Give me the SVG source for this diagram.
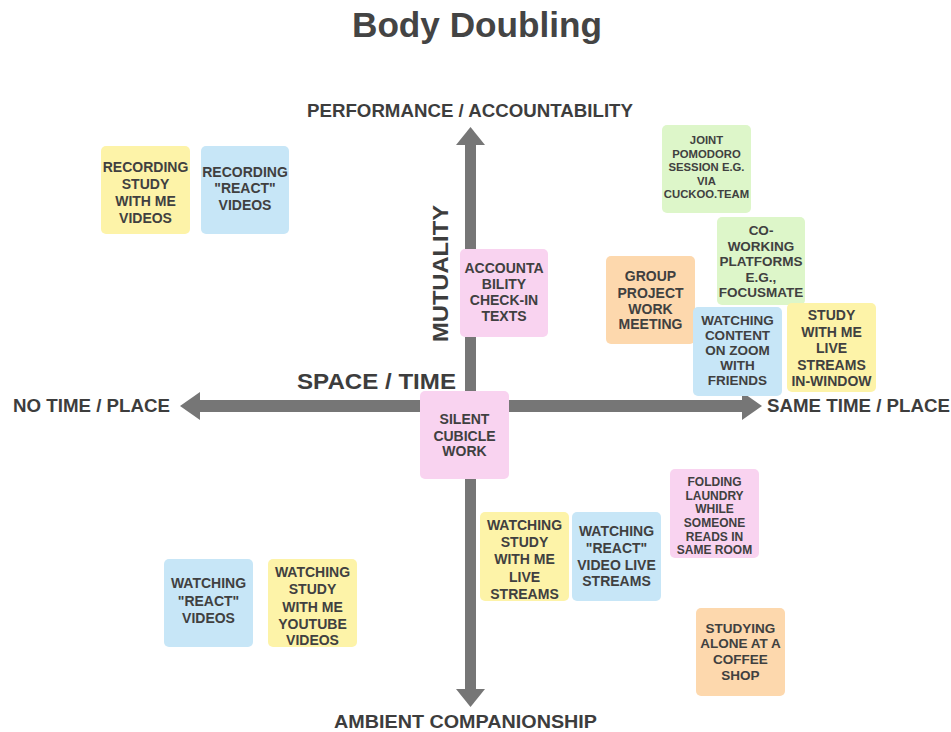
<svg xmlns="http://www.w3.org/2000/svg" width="951" height="732" viewBox="0 0 951 732">
<style>
  .bg{fill:#ffffff}
  .title{font-family:"Liberation Sans",Arial,sans-serif;font-weight:bold;font-size:35px;fill:#444444}
  .axlab{font-family:"Liberation Sans",Arial,sans-serif;font-weight:bold;font-size:18.5px;fill:#3d3d3d}
  .big{font-family:"Liberation Sans",Arial,sans-serif;font-weight:bold;font-size:22px;fill:#3d3d3d}
  .n{font-family:"Liberation Sans",Arial,sans-serif;font-weight:bold;fill:#404040;text-anchor:middle}
  .yel{fill:#fdf3a8}
  .blu{fill:#c7e6f7}
  .grn{fill:#ddf6c9}
  .org{fill:#fdd8ad}
  .pnk{fill:#f9d3f0}
  .ax{fill:#767676}
</style>
<rect class="bg" x="0" y="0" width="951" height="732"/>
<text class="title" x="477" y="37" text-anchor="middle" textLength="250" lengthAdjust="spacingAndGlyphs">Body Doubling</text>

<g id="connectors">
  <rect class="ax" x="200" y="400" width="542" height="12"/>
  <polygon class="ax" points="180,406 200,392 200,420"/>
  <polygon class="ax" points="762,406 742,392 742,420"/>
  <rect class="ax" x="465" y="145" width="11" height="545"/>
  <polygon class="ax" points="470.5,127 456,145 485,145"/>
  <polygon class="ax" points="470.5,707 456,689 485,689"/>
</g>

<g id="axis-labels">
  <text class="axlab" x="307" y="117" textLength="326" lengthAdjust="spacingAndGlyphs">PERFORMANCE / ACCOUNTABILITY</text>
  <text class="axlab" x="13" y="412" textLength="157" lengthAdjust="spacingAndGlyphs">NO TIME / PLACE</text>
  <text class="axlab" x="767" y="412" textLength="183" lengthAdjust="spacingAndGlyphs">SAME TIME / PLACE</text>
  <text class="axlab" x="334" y="728" textLength="263" lengthAdjust="spacingAndGlyphs">AMBIENT COMPANIONSHIP</text>
  <text class="big" x="297" y="389" textLength="159" lengthAdjust="spacingAndGlyphs">SPACE / TIME</text>
  <text class="big" transform="translate(448,342) rotate(-90)" x="0" y="0" textLength="137" lengthAdjust="spacingAndGlyphs">MUTUALITY</text>
</g>

<g id="rec-study">
  <rect class="yel" x="101" y="146" width="89" height="88" rx="5"/>
  <text class="n" font-size="14"><tspan x="145.5" y="172">RECORDING</tspan><tspan x="145.5" y="189">STUDY</tspan><tspan x="145.5" y="206">WITH ME</tspan><tspan x="145.5" y="223">VIDEOS</tspan></text>
</g>
<g id="rec-react">
  <rect class="blu" x="201" y="146" width="88" height="88" rx="5"/>
  <text class="n" font-size="14"><tspan x="245" y="177">RECORDING</tspan><tspan x="245" y="193">"REACT"</tspan><tspan x="245" y="210">VIDEOS</tspan></text>
</g>
<g id="joint-pomodoro">
  <rect class="grn" x="662" y="125" width="89" height="88" rx="5"/>
  <text class="n" font-size="11.3"><tspan x="706.5" y="144">JOINT</tspan><tspan x="706.5" y="157.5">POMODORO</tspan><tspan x="706.5" y="171">SESSION E.G.</tspan><tspan x="706.5" y="184.5">VIA</tspan><tspan x="706.5" y="198">CUCKOO.TEAM</tspan></text>
</g>
<g id="coworking">
  <rect class="grn" x="717" y="217" width="88" height="88" rx="5"/>
  <text class="n" font-size="13.5"><tspan x="761" y="235">CO-</tspan><tspan x="761" y="250.5">WORKING</tspan><tspan x="761" y="266">PLATFORMS</tspan><tspan x="761" y="281.5">E.G.,</tspan><tspan x="761" y="297">FOCUSMATE</tspan></text>
</g>
<g id="accountability">
  <rect class="pnk" x="460" y="249" width="88" height="88" rx="5"/>
  <text class="n" font-size="14"><tspan x="504" y="273">ACCOUNTA</tspan><tspan x="504" y="289">BILITY</tspan><tspan x="504" y="305">CHECK-IN</tspan><tspan x="504" y="321">TEXTS</tspan></text>
</g>
<g id="group-project">
  <rect class="org" x="606" y="256" width="89" height="88" rx="5"/>
  <text class="n" font-size="14"><tspan x="650.5" y="281">GROUP</tspan><tspan x="650.5" y="298">PROJECT</tspan><tspan x="650.5" y="314">WORK</tspan><tspan x="650.5" y="329">MEETING</tspan></text>
</g>
<g id="zoom-friends">
  <rect class="blu" x="693" y="307" width="89" height="89" rx="5"/>
  <text class="n" font-size="13.5"><tspan x="737.5" y="325">WATCHING</tspan><tspan x="737.5" y="340">CONTENT</tspan><tspan x="737.5" y="355">ON ZOOM</tspan><tspan x="737.5" y="370">WITH</tspan><tspan x="737.5" y="385">FRIENDS</tspan></text>
</g>
<g id="live-inwindow">
  <rect class="yel" x="787" y="303" width="89" height="89" rx="5"/>
  <text class="n" font-size="14"><tspan x="831.5" y="320">STUDY</tspan><tspan x="831.5" y="336.5">WITH ME</tspan><tspan x="831.5" y="353">LIVE</tspan><tspan x="831.5" y="369.5">STREAMS</tspan><tspan x="831.5" y="386">IN-WINDOW</tspan></text>
</g>
<g id="silent-cubicle">
  <rect class="pnk" x="420" y="391" width="89" height="88" rx="5"/>
  <text class="n" font-size="14"><tspan x="464.5" y="424">SILENT</tspan><tspan x="464.5" y="441">CUBICLE</tspan><tspan x="464.5" y="456">WORK</tspan></text>
</g>
<g id="folding-laundry">
  <rect class="pnk" x="670" y="469" width="89" height="89" rx="5"/>
  <text class="n" font-size="12"><tspan x="714.5" y="486">FOLDING</tspan><tspan x="714.5" y="499.5">LAUNDRY</tspan><tspan x="714.5" y="513">WHILE</tspan><tspan x="714.5" y="527">SOMEONE</tspan><tspan x="714.5" y="540.5">READS IN</tspan><tspan x="714.5" y="554">SAME ROOM</tspan></text>
</g>
<g id="watch-live-streams">
  <rect class="yel" x="480" y="512" width="89" height="89" rx="5"/>
  <text class="n" font-size="14"><tspan x="524.5" y="530">WATCHING</tspan><tspan x="524.5" y="547">STUDY</tspan><tspan x="524.5" y="564">WITH ME</tspan><tspan x="524.5" y="582">LIVE</tspan><tspan x="524.5" y="599">STREAMS</tspan></text>
</g>
<g id="react-live-streams">
  <rect class="blu" x="572" y="512" width="89" height="89" rx="5"/>
  <text class="n" font-size="14"><tspan x="616.5" y="536">WATCHING</tspan><tspan x="616.5" y="553">"REACT"</tspan><tspan x="616.5" y="570">VIDEO LIVE</tspan><tspan x="616.5" y="586">STREAMS</tspan></text>
</g>
<g id="watch-react-videos">
  <rect class="blu" x="164" y="559" width="89" height="88" rx="5"/>
  <text class="n" font-size="14"><tspan x="208.5" y="588">WATCHING</tspan><tspan x="208.5" y="606">"REACT"</tspan><tspan x="208.5" y="623">VIDEOS</tspan></text>
</g>
<g id="watch-youtube">
  <rect class="yel" x="268" y="559" width="89" height="88" rx="5"/>
  <text class="n" font-size="14"><tspan x="312.5" y="577">WATCHING</tspan><tspan x="312.5" y="594">STUDY</tspan><tspan x="312.5" y="612">WITH ME</tspan><tspan x="312.5" y="629">YOUTUBE</tspan><tspan x="312.5" y="645">VIDEOS</tspan></text>
</g>
<g id="coffee-shop">
  <rect class="org" x="696" y="608" width="89" height="88" rx="5"/>
  <text class="n" font-size="13.5"><tspan x="740.5" y="633">STUDYING</tspan><tspan x="740.5" y="648">ALONE AT A</tspan><tspan x="740.5" y="664">COFFEE</tspan><tspan x="740.5" y="680">SHOP</tspan></text>
</g>
</svg>
